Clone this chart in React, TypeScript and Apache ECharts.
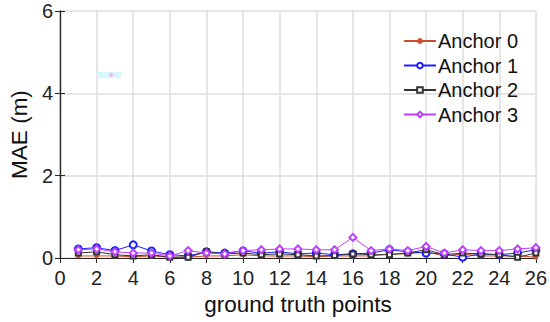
import React, { useEffect, useRef } from "react";
import * as echarts from "echarts";

const points = [1,2,3,4,5,6,7,8,9,10,11,12,13,14,15,16,17,18,19,20,21,22,23,24,25,26];
const anchor0 = [0.05,0.05,0.05,0.03,0.05,0.02,0.02,0.05,0.05,0.08,0.05,0.05,0.05,0.03,0.05,0.05,0.05,0.1,0.1,0.15,0.05,0.1,0.05,0.05,0.05,0.02];
const anchor1 = [0.22,0.25,0.18,0.32,0.17,0.08,0.05,0.15,0.12,0.17,0.12,0.15,0.1,0.12,0.08,0.1,0.12,0.2,0.15,0.12,0.1,0.02,0.1,0.08,0.12,0.2];
const anchor2 = [0.12,0.15,0.08,0.05,0.08,0.02,0.02,0.15,0.1,0.12,0.08,0.1,0.08,0.05,0.06,0.1,0.08,0.08,0.12,0.2,0.08,0.12,0.1,0.08,0.02,0.12];
const anchor3 = [0.2,0.22,0.15,0.12,0.12,0.05,0.18,0.12,0.1,0.18,0.2,0.22,0.22,0.2,0.2,0.5,0.18,0.22,0.18,0.28,0.12,0.2,0.18,0.18,0.22,0.25];
const names = ["Anchor 0", "Anchor 1", "Anchor 2", "Anchor 3"];
const colors = ["#c8502c", "#1f1fff", "#333333", "#bf3fff"];

const starPath = "path://M5,0 L5,10 M0,5 L10,5 M1.5,1.5 L8.5,8.5 M8.5,1.5 L1.5,8.5";

export default function App() {
  const ref = useRef<HTMLDivElement>(null);
  useEffect(() => {
    const chart = echarts.init(ref.current!, null, { renderer: "svg" });
    const font = "Liberation Sans, Arial, sans-serif";
    const mk = (d: number[]) => d.map((v, i) => [points[i], v]);
    const allData = [anchor0, anchor1, anchor2, anchor3];
    const symbols = ["circle", "emptyCircle", "emptyRect", "emptyDiamond"];
    const sizes = [5, 7, 5, 7];
    const axisLine = { show: true, lineStyle: { color: "#262626", width: 1.2 } };
    const tick = { show: true, inside: true, length: 5, lineStyle: { color: "#262626" } };
    chart.setOption({
      animation: false,
      backgroundColor: "#ffffff",
      textStyle: { fontFamily: font },
      grid: { left: 50, right: 12, top: 11, bottom: 64, containLabel: false },
      legend: {
        right: 27,
        top: 26,
        orient: "vertical",
        itemGap: 4.5,
        itemWidth: 32,
        itemHeight: 7,
        textStyle: { fontSize: 20, color: "#111", fontFamily: font, padding: [0, 0, 0, -3] },
        data: names,
      },
      xAxis: [
        {
          type: "value", min: 0, max: 26, interval: 2,
          name: "ground truth points", nameLocation: "middle", nameGap: 35,
          nameTextStyle: { fontSize: 22.5, color: "#111", fontFamily: font },
          axisLine, axisTick: tick,
          axisLabel: { fontSize: 20, color: "#222", margin: 10, fontFamily: font },
          splitLine: { show: true, lineStyle: { color: "#dedede", width: 1.5 } },
        },
        {
          type: "value", min: 0, max: 26, interval: 2, position: "top",
          axisLine, axisTick: tick,
          axisLabel: { show: false }, splitLine: { show: false },
        },
      ],
      yAxis: [
        {
          type: "value", min: 0, max: 6, interval: 2,
          name: "MAE (m)", nameLocation: "middle", nameGap: 22,
          nameTextStyle: { fontSize: 22.5, color: "#111", fontFamily: font },
          axisLine, axisTick: tick,
          axisLabel: { fontSize: 20, color: "#222", margin: 7, fontFamily: font },
          splitLine: { show: true, lineStyle: { color: "#dedede", width: 1.5 } },
        },
        {
          type: "value", min: 0, max: 6, interval: 2, position: "right",
          axisLine, axisTick: tick,
          axisLabel: { show: false }, splitLine: { show: false },
        },
      ],
      graphic: [
        { type: "rect", shape: { x: 97, y: 72, width: 24, height: 6 }, style: { fill: "#d6f7fb" }, z: 1 },
        { type: "circle", shape: { cx: 111, cy: 75, r: 2 }, style: { fill: "#f7b3ee" }, z: 1 },
      ],
      series: allData.map((d, i) => ({
        name: names[i],
        type: "line",
        data: mk(d),
        symbol: i === 0 ? starPath : symbols[i],
        symbolSize: sizes[i],
        showSymbol: true,
        lineStyle: { color: colors[i], width: 1 },
        itemStyle: { color: colors[i], borderColor: colors[i], borderWidth: 1.3 },
        z: 3 + i,
      })),
    });
    return () => chart.dispose();
  }, []);
  return <div ref={ref} style={{ position: "fixed", left: 0, top: 0, width: 550, height: 322 }} />;
}
